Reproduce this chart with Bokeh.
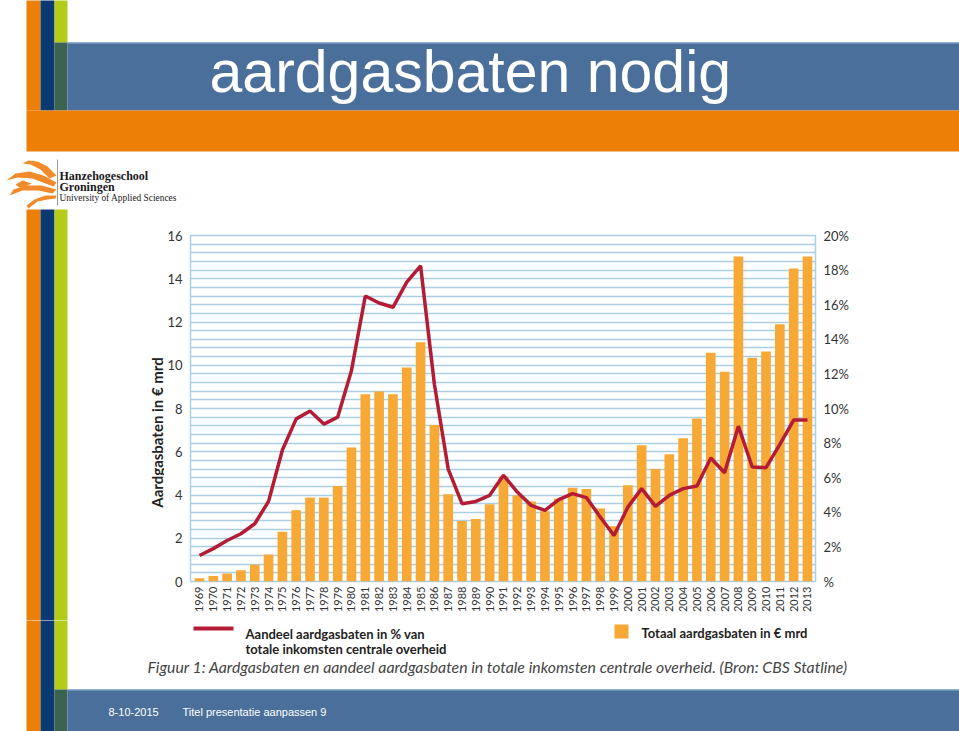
import math
from bokeh.plotting import figure
from bokeh.models import Range1d, LinearAxis, FixedTicker
from bokeh.layouts import column, row
from bokeh.core.properties import value
from bokeh.embed import file_html
from bokeh.resources import INLINE

# ---------------- data ----------------
years = list(range(1969, 2014))
baten_mrd = [0.15, 0.26, 0.37, 0.52, 0.77, 1.25, 2.3, 3.3, 3.88, 3.88, 4.42,
             6.2, 8.66, 8.79, 8.66, 9.9, 11.06, 7.24, 4.03, 2.8, 2.89,
             3.57, 4.85, 3.98, 3.7, 3.25, 3.83, 4.34, 4.28, 3.38, 2.55,
             4.45, 6.3, 5.2, 5.88, 6.63, 7.54, 10.58, 9.7, 15.03, 10.35,
             10.64, 11.9, 14.47, 15.03]
aandeel_pct = [1.5, 1.9, 2.37, 2.76, 3.34, 4.63, 7.6, 9.4, 9.85, 9.1, 9.5,
               12.2, 16.5, 16.1, 15.85, 17.3, 18.25, 11.4, 6.5, 4.5, 4.63,
               4.98, 6.14, 5.17, 4.4, 4.11, 4.73, 5.08, 4.85, 3.73, 2.66,
               4.3, 5.37, 4.34, 4.98, 5.37, 5.52, 7.14, 6.29, 8.98, 6.62,
               6.58, 7.93, 9.33, 9.33]
mrd_ticks = [0, 2, 4, 6, 8, 10, 12, 14, 16]
pct_ticks = [0, 2, 4, 6, 8, 10, 12, 14, 16, 18, 20]
pct_labels = {t: ("%" if t == 0 else f"{t}%") for t in pct_ticks}

title_text = "aardgasbaten nodig"
y_label = "Aardgasbaten in € mrd"
legend_line = ["Aandeel aardgasbaten in % van", "totale inkomsten centrale overheid"]
legend_bar = "Totaal aardgasbaten in € mrd"
caption = ("Figuur 1: Aardgasbaten en aandeel aardgasbaten in totale inkomsten "
           "centrale overheid. (Bron: CBS Statline)")
footer_date = "8-10-2015"
footer_text = "Titel presentatie aanpassen  9"
logo_lines = ["Hanzehogeschool", "Groningen", "University of Applied Sciences"]

# ---------------- colours ----------------
ORANGE = "#EE7F06"
NAVY = "#0B3A72"
LIME = "#B4CB1A"
BLUE = "#4B6F9B"
EDGE = "#8FB0D0"
TEAL = "#3B6352"
BAR = "#F8A834"
RED = "#B41C35"
GRID = "#A8D0E2"
TXT = "#333333"
CHART_FONT = "Lato"

# ---------------- helpers ----------------
def panel(x0, x1, y0, y1):
    f = figure(width=x1 - x0, height=y1 - y0, output_backend="svg",
               toolbar_location=None, x_axis_type=None, y_axis_type=None,
               x_range=Range1d(x0, x1), y_range=Range1d(y1, y0), min_border=0,
               frame_align=False)
    f.outline_line_color = None
    f.background_fill_color = "white"
    f.border_fill_color = "white"
    return f

def rect(f, l, r, t, b, color):
    f.quad(left=[l], right=[r], top=[t], bottom=[b], fill_color=color, line_color=None)

def txt(f, x, y, text, size, color="white", font="Liberation Sans", style="normal",
        align="left", baseline="middle", angle=0):
    f.text(x=[x], y=[y], text=[text], text_font=value(font),
           text_font_size=f"{size}px", text_font_style=style, text_color=color,
           text_align=align, text_baseline=baseline, angle=angle)

# ---------------- top panel (title band + logo) ----------------
top = panel(0, 959, 0, 209)
rect(top, 26, 40, -5, 110, ORANGE)
rect(top, 40, 54, -5, 110, NAVY)
rect(top, 54, 67, -5, 42, LIME)
rect(top, 54, 67, 42, 110, TEAL)
rect(top, 67, 965, 42, 110, BLUE)
rect(top, 67, 965, 41.5, 43, EDGE)
rect(top, 26, 965, 110, 151, ORANGE)
rect(top, 26, 40, 208.5, 215, ORANGE)
rect(top, 40, 54, 208.5, 215, NAVY)
rect(top, 54, 67, 208.5, 215, LIME)
txt(top, 209, 71, title_text, 59)

flames = [
    ([56, 47, 37, 28, 22, 30, 40, 49], [175, 166, 161, 160, 163, 164, 169, 178]),
    ([56, 43, 29, 15, 6, 17, 32, 45, 53], [182, 175, 171, 173, 180, 177, 178, 183, 186]),
    ([56, 41, 25, 13, 9, 22, 38, 52], [189, 185, 185, 189, 195, 190, 190, 193]),
    ([56, 45, 34, 26, 28, 37, 47, 55], [195, 195, 199, 205, 208, 201, 199, 198]),
    ([31, 22, 15, 19, 27], [183, 180, 184, 187, 185]),
    ([40, 33, 28, 33, 41], [178, 173, 175, 178, 180]),
]
top.patches(xs=[f[0] for f in flames], ys=[f[1] for f in flames],
            fill_color="#F08A2A", line_color=None)
rect(top, 56.5, 57.5, 159, 205, "#9A9A9A")
txt(top, 59, 175.5, logo_lines[0], 12, color="#1a1a1a", font="Liberation Serif",
    style="bold", baseline="alphabetic")
txt(top, 59, 186.5, logo_lines[1], 12, color="#1a1a1a", font="Liberation Serif",
    style="bold", baseline="alphabetic")
txt(top, 59, 197, logo_lines[2], 9.4, color="#1a1a1a", font="Liberation Serif",
    baseline="alphabetic")

# ---------------- left panel (stripes + axis title) ----------------
LX = 164
left = panel(0, LX, 209, 620)
rect(left, 26, 40, 200, 630, ORANGE)
rect(left, 40, 54, 200, 630, NAVY)
rect(left, 54, 67, 200, 630, LIME)
txt(left, 156, 432, y_label, 15, color="#222222", font=CHART_FONT, style="bold",
    align="center", angle=math.pi / 2)

# ---------------- chart ----------------
FL, FR, FT, FB = 190, 815, 235, 581
CY0, CY1 = 209, 620
p = figure(width=959 - LX, height=CY1 - CY0, output_backend="svg",
           toolbar_location=None, frame_align=False,
           x_range=Range1d(1968.35, 2013.58), y_range=Range1d(0, 16),
           min_border_left=FL - LX, min_border_right=959 - FR,
           min_border_top=FT - CY0, min_border_bottom=CY1 - FB)
p.extra_y_ranges = {"pct": Range1d(0, 20)}
p.background_fill_color = "white"
p.border_fill_color = "white"
p.outline_line_color = GRID
p.outline_line_width = 1.5

p.xgrid.visible = False
p.ygrid.ticker = FixedTicker(ticks=[i * 0.4 for i in range(41)])
p.ygrid.grid_line_color = GRID
p.ygrid.grid_line_width = 1.5

p.vbar(x=years, top=baten_mrd, width=0.7, fill_color=BAR, line_color=None)
p.line(years, aandeel_pct, y_range_name="pct", line_color=RED, line_width=3.5)

def style_axis(a, standoff, size):
    a.axis_line_color = None
    a.major_tick_line_color = None
    a.minor_tick_line_color = None
    a.major_tick_out = 0
    a.major_tick_in = 0
    a.minor_tick_out = 0
    a.minor_tick_in = 0
    a.major_label_standoff = standoff
    a.major_label_text_font = CHART_FONT
    a.major_label_text_font_size = size
    a.major_label_text_color = TXT

ya = p.yaxis[0]
ya.ticker = FixedTicker(ticks=mrd_ticks)
style_axis(ya, 8, "13px")

ra = LinearAxis(y_range_name="pct", ticker=FixedTicker(ticks=pct_ticks),
                major_label_overrides=pct_labels)
style_axis(ra, 8, "13px")
p.add_layout(ra, "right")

xa = p.xaxis[0]
xa.ticker = FixedTicker(ticks=years)
xa.major_label_orientation = math.pi / 2
style_axis(xa, 5, "11px")

# ---------------- bottom panel (legend, caption, footer) ----------------
bot = panel(0, 959, 620, 731)
rect(bot, 26, 40, 610, 740, ORANGE)
rect(bot, 40, 54, 610, 740, NAVY)
rect(bot, 54, 67, 610, 689, LIME)
rect(bot, 54, 67, 689, 740, TEAL)
rect(bot, 67, 965, 689, 740, BLUE)
rect(bot, 67, 965, 688.5, 690, EDGE)

rect(bot, 193, 233, 626, 630, RED)
txt(bot, 245, 633, legend_line[0], 13, color="#222222", font=CHART_FONT, style="bold")
txt(bot, 245, 648.5, legend_line[1], 13, color="#222222", font=CHART_FONT, style="bold")
rect(bot, 614, 628, 624, 638, BAR)
txt(bot, 641, 632, legend_bar, 13, color="#222222", font=CHART_FONT, style="bold")
txt(bot, 147, 666, caption, 15.8, color="#444444", font=CHART_FONT, style="italic")
txt(bot, 108, 711, footer_date, 11)
txt(bot, 182, 711, footer_text, 11)

layout = column(top, row(left, p, spacing=0), bot, spacing=0)
open("out.html", "w").write(file_html(layout, INLINE))
